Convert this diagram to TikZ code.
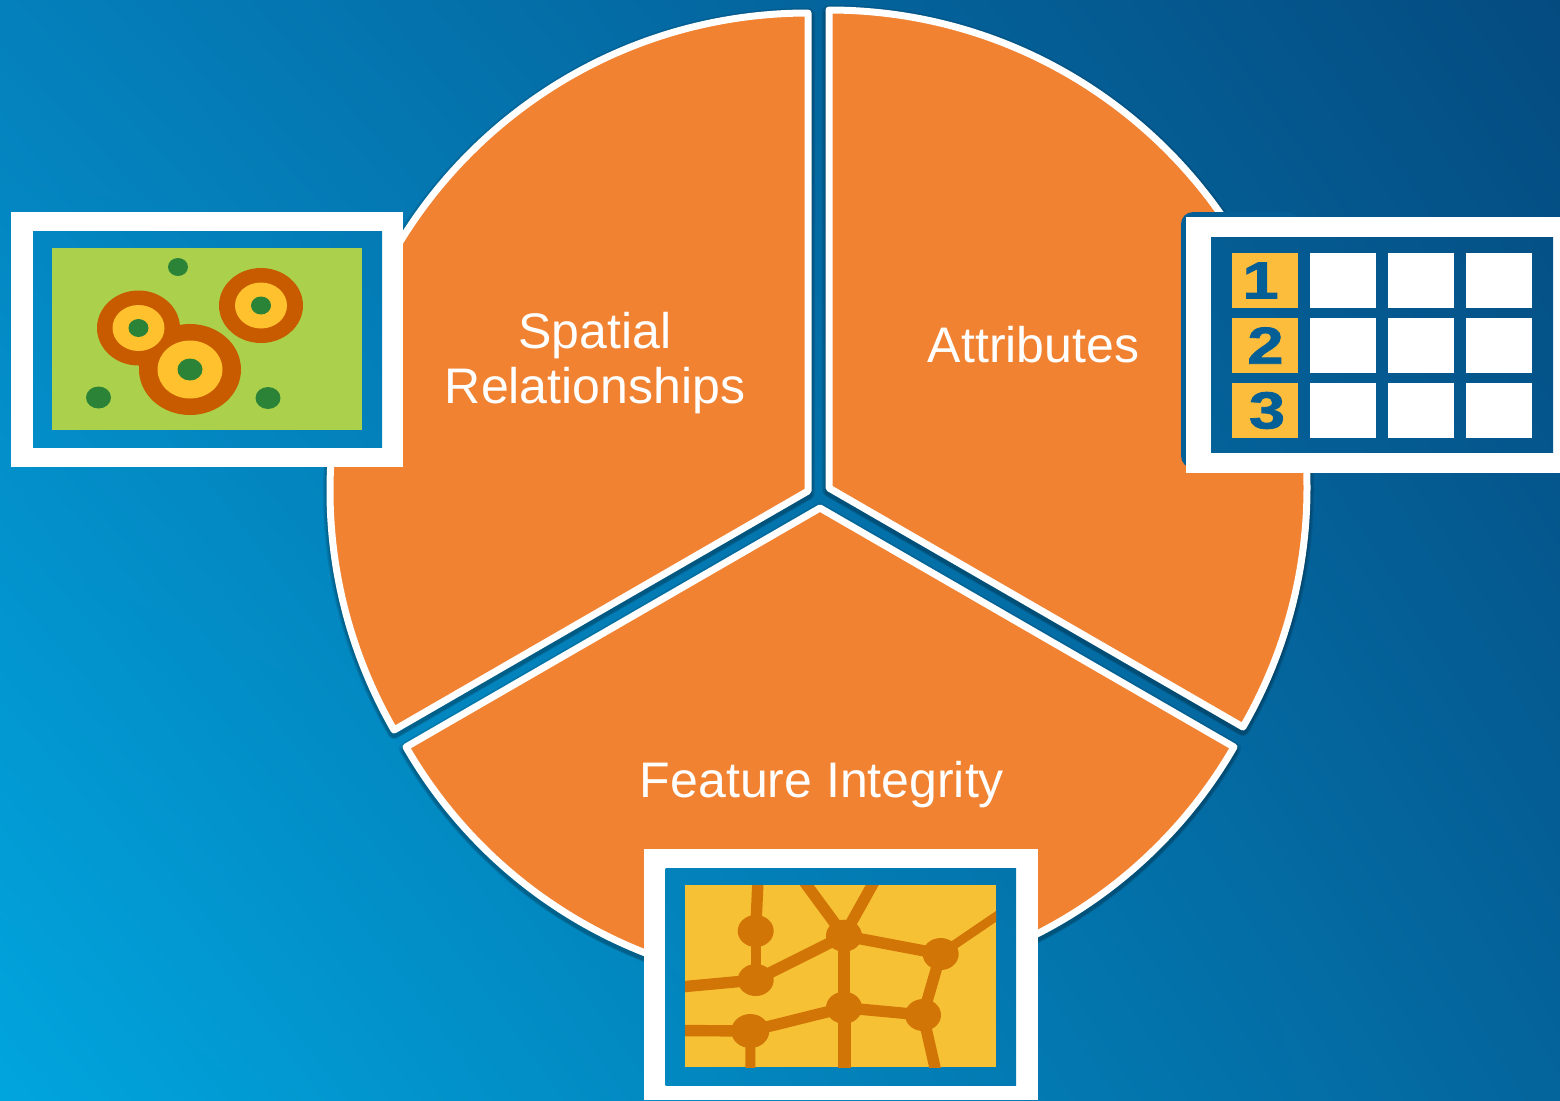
\documentclass[tikz,border=0pt]{standalone}
\usepackage{fontspec}
\setmainfont{Liberation Sans}
\newfontfamily\digitfont[BoldFeatures={FakeBold=1.5}]{Liberation Sans}
\usetikzlibrary{shapes.geometric,shadings}
\definecolor{sectororange}{HTML}{F08232}
\definecolor{fieldgreen}{HTML}{ABD14C}
\definecolor{dotgreen}{HTML}{2B8338}
\definecolor{ringorange}{HTML}{C85A00}
\definecolor{ringyellow}{HTML}{FFC22E}
\definecolor{mapyellow}{HTML}{F7C136}
\definecolor{roadorange}{HTML}{D17506}
\definecolor{numyellow}{HTML}{FBBD3B}
\definecolor{numblue}{HTML}{045F96}
\definecolor{bgul}{HTML}{0480BC}
\definecolor{bgur}{HTML}{044B80}
\definecolor{bgll}{HTML}{01A5DE}
\definecolor{bglr}{HTML}{04649C}
\tikzset{bgshade/.style={upper left=bgul, upper right=bgur, lower left=bgll, lower right=bglr}}
\newcommand{\bgpanel}[4]{\begin{scope}\clip (#1,#2) rectangle (#3,#4);\shade[bgshade] (0,0) rectangle (1560,1100);\end{scope}}
\newcommand{\widedigit}[1]{\scalebox{1.25}[1]{#1}}
\begin{document}
\begin{tikzpicture}[x=0.5pt,y=-0.5pt]
  \tikzstyle{sector} = [draw=white, fill=sectororange, line width=3.5pt, line join=round]
  \tikzstyle{caption} = [text=white, font=\fontsize{25pt}{27.5pt}\selectfont, align=center, inner sep=0pt]
  \tikzstyle{road} = [draw=roadorange, line width=5.7pt]
  \tikzstyle{junction} = [ellipse, fill=roadorange, inner sep=0pt, minimum width=18pt, minimum height=16pt]
  \tikzstyle{cell} = [rectangle, fill=white, inner sep=0pt, minimum width=33.25pt, minimum height=27.5pt]
  \tikzstyle{numcell} = [rectangle, fill=numyellow, inner sep=0pt, minimum width=33pt, minimum height=27.5pt]
  \tikzstyle{digit} = [text=numblue, inner sep=0pt, font=\digitfont\bfseries\fontsize{26pt}{26pt}\selectfont]

  \useasboundingbox (0,0) rectangle (1560,1100);
  \shade[bgshade] (0,0) rectangle (1560,1100);

  % pie
  \foreach \cx/\cy/\from/\to in {808/491/-90/-210, 829/488/-90/30, 820/508/-210/-330} {
    \foreach \off/\wid in {2/7, 3/5.5, 4/4} {
      \draw[black, opacity=0.1, line width=\wid pt, line join=round] (\cx,\cy+\off) -- ++(\from:478) arc [start angle=\from, end angle=\to, radius=478] -- cycle;
    }
    \draw[sector] (\cx,\cy) -- ++(\from:478) arc [start angle=\from, end angle=\to, radius=478] -- cycle;
  }
  \node[caption] (spatial) at (595,363) {Spatial\\Relationships};
  \node[caption] (attributes) at (1033.5,345) {Attributes};
  \node[caption] (integrity) at (822,785) {Feature Integrity};

  % left picture
  \fill[white] (11,211.5) rectangle (403,467);
  \bgpanel{33}{231}{382}{447}
  \fill[fieldgreen] (52,248) rectangle (362,430);
  \fill[ringorange] (138.5,328) ellipse [x radius=41.5, y radius=37.5];
  \fill[ringorange] (190,369.5) ellipse [x radius=51, y radius=45.5];
  \fill[ringorange] (261,305.5) ellipse [x radius=42, y radius=37.5];
  \fill[ringyellow] (138.5,328) ellipse [x radius=26, y radius=23];
  \fill[ringyellow] (190,369.5) ellipse [x radius=32.5, y radius=29];
  \fill[ringyellow] (261,305.5) ellipse [x radius=26, y radius=23];
  \foreach \px/\py/\rx/\ry in {138.5/328/10/9, 190/369.5/12.5/11, 261/305.5/10/9, 178/267/10/9, 98.5/397.5/12.5/11, 268/398/12.5/11} {
    \fill[dotgreen] (\px,\py) ellipse [x radius=\rx, y radius=\ry];
  }

  % right picture
  \fill[numblue, rounded corners=6pt] (1181,212) rectangle (1300,468);
  \fill[white] (1186,217) rectangle (1560,473);
  \bgpanel{1211}{237}{1553}{452}
  \node[numcell] (num1) at (1265,280.5) {};
  \node[numcell] (num2) at (1265,345.5) {};
  \node[numcell] (num3) at (1265,410) {};
  \node[digit] (one) at (1260.5,280.5) {\widedigit{1}};
  \node[digit] (two) at (1265.5,345.5) {\widedigit{2}};
  \node[digit] (three) at (1267,410.5) {\widedigit{3}};
  \foreach \r/\y in {1/280.5, 2/345.5, 3/410} {
    \node[cell] (c\r1) at (1343,\y) {};
    \node[cell] (c\r2) at (1421,\y) {};
    \node[cell] (c\r3) at (1499,\y) {};
  }

  % bottom picture
  \fill[white] (644,849) rectangle (1038,1100);
  \bgpanel{665.5}{868}{1016}{1085}
  \fill[mapyellow] (685,885) rectangle (996,1067);
  \begin{scope}
    \clip (685,885) rectangle (996,1067);
    \node[junction] (n1) at (755.7,931) {};
    \node[junction] (n2) at (755.7,980) {};
    \node[junction] (n3) at (844,935.7) {};
    \node[junction] (n4) at (940.7,954) {};
    \node[junction] (n5) at (844,1007.7) {};
    \node[junction] (n6) at (923,1015) {};
    \node[junction, minimum width=19pt, minimum height=17pt] (n7) at (750.3,1031) {};
    \coordinate (top1) at (758,880);
    \coordinate (top2) at (803,880);
    \coordinate (top3) at (875,880);
    \coordinate (left1) at (680,1030.5);
    \coordinate (left2) at (680,987);
    \coordinate (right1) at (1001,913);
    \coordinate (bot1) at (750.5,1072);
    \coordinate (bot2) at (844,1072);
    \coordinate (bot3) at (936,1072);
    \draw[road] (n1.center) -- (top1);
    \draw[road, line width=5pt] (n1.center) -- (n2.center);
    \draw[road] (n2.center) -- (left2);
    \draw[road] (n2.center) -- (n3.center);
    \draw[road] (n3.center) -- (top2);
    \draw[road] (n3.center) -- (top3);
    \draw[road] (n3.center) -- (n4.center);
    \draw[road, line width=4.5pt] (n4.center) -- (right1);
    \draw[road] (n4.center) -- (n6.center);
    \draw[road] (n3.center) -- (n5.center);
    \draw[road] (n5.center) -- (n6.center);
    \draw[road] (n5.center) -- (n7.center);
    \draw[road, line width=6.5pt] (n5.center) -- (bot2);
    \draw[road] (n7.center) -- (left1);
    \draw[road, line width=5pt] (n7.center) -- (bot1);
    \draw[road] (n6.center) -- (bot3);
  \end{scope}
\end{tikzpicture}
\end{document}
